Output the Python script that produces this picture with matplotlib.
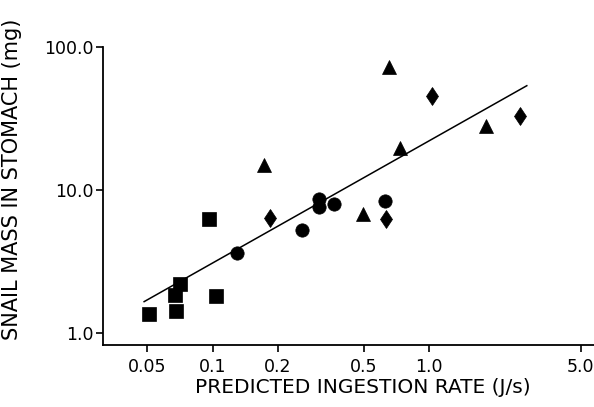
import matplotlib
matplotlib.use("Agg")
import matplotlib.pyplot as plt
from matplotlib.ticker import FixedLocator, FixedFormatter, NullLocator
import numpy as np

# Data (predicted ingestion rate J/s, snail mass mg)
square_x = [0.0510, 0.0675, 0.0673, 0.0709, 0.0961, 0.1035]
square_y = [1.36, 1.43, 1.85, 2.20, 6.24, 1.81]

circle_x = [0.129, 0.259, 0.310, 0.310, 0.364, 0.626]
circle_y = [3.61, 5.25, 8.65, 7.64, 7.94, 8.38]

triangle_x = [0.172, 0.653, 0.732, 1.827, 0.493]
triangle_y = [15.0, 72.4, 19.7, 27.9, 6.80]

diamond_x = [0.184, 0.631, 1.032, 2.63]
diamond_y = [6.40, 6.24, 45.4, 32.9]

# Fitted line (log-log): y = a * x^b over the drawn range
fit_a = 22.1
fit_b = 0.855
fit_range = [0.0483, 2.82]

x_ticks = [0.05, 0.1, 0.2, 0.5, 1.0, 5.0]
x_ticklabels = ["0.05", "0.1", "0.2", "0.5", "1.0", "5.0"]
y_ticks = [1.0, 10.0, 100.0]
y_ticklabels = ["1.0", "10.0", "100.0"]

plt.rcParams['font.family'] = ['DejaVu Sans']

fig = plt.figure(figsize=(5.94, 4.07), dpi=100)
ax = fig.add_axes([0.1729, 0.1516, 0.8271, 0.7329])
ax.set_xscale('log')
ax.set_yscale('log')
ax.set_xlim(0.0311, 5.76)
ax.set_ylim(0.82, 100)

fx = np.array(fit_range)
ax.plot(fx, fit_a * fx ** fit_b, color='black', lw=1.1, zorder=2)

kw = dict(linestyle='none', color='black', mec='black', mew=0.5, zorder=3)
ax.plot(square_x, square_y, marker='s', ms=9.4, **kw)
ax.plot(circle_x, circle_y, marker='o', ms=9.6, **kw)
ax.plot(triangle_x, triangle_y, marker='^', ms=9.6, **kw)
ax.plot(diamond_x, diamond_y, marker='d', ms=9.4, **kw)

ax.spines['top'].set_visible(False)
ax.spines['right'].set_visible(False)
ax.spines['left'].set_linewidth(1.3)
ax.spines['bottom'].set_linewidth(1.3)

ax.xaxis.set_major_locator(FixedLocator(x_ticks))
ax.xaxis.set_major_formatter(FixedFormatter(x_ticklabels))
ax.xaxis.set_minor_locator(NullLocator())
ax.yaxis.set_major_locator(FixedLocator(y_ticks))
ax.yaxis.set_major_formatter(FixedFormatter(y_ticklabels))
ax.yaxis.set_minor_locator(NullLocator())

ax.tick_params(axis='both', which='major', direction='out', length=5, width=1.2,
               labelsize=12.5, colors='black')
ax.tick_params(axis='y', pad=1.5)
ax.tick_params(axis='x', pad=4)

ax.set_xlabel("PREDICTED INGESTION RATE (J/s)", fontsize=14.5)
ax.set_ylabel("SNAIL MASS IN STOMACH (mg)", fontsize=15)
ax.xaxis.set_label_coords(0.53, -0.142)
ax.yaxis.set_label_coords(-0.185, 0.555)
ax.xaxis.label.set_va('center')
ax.yaxis.label.set_va('center')

fig.savefig("out.png", dpi=100)
